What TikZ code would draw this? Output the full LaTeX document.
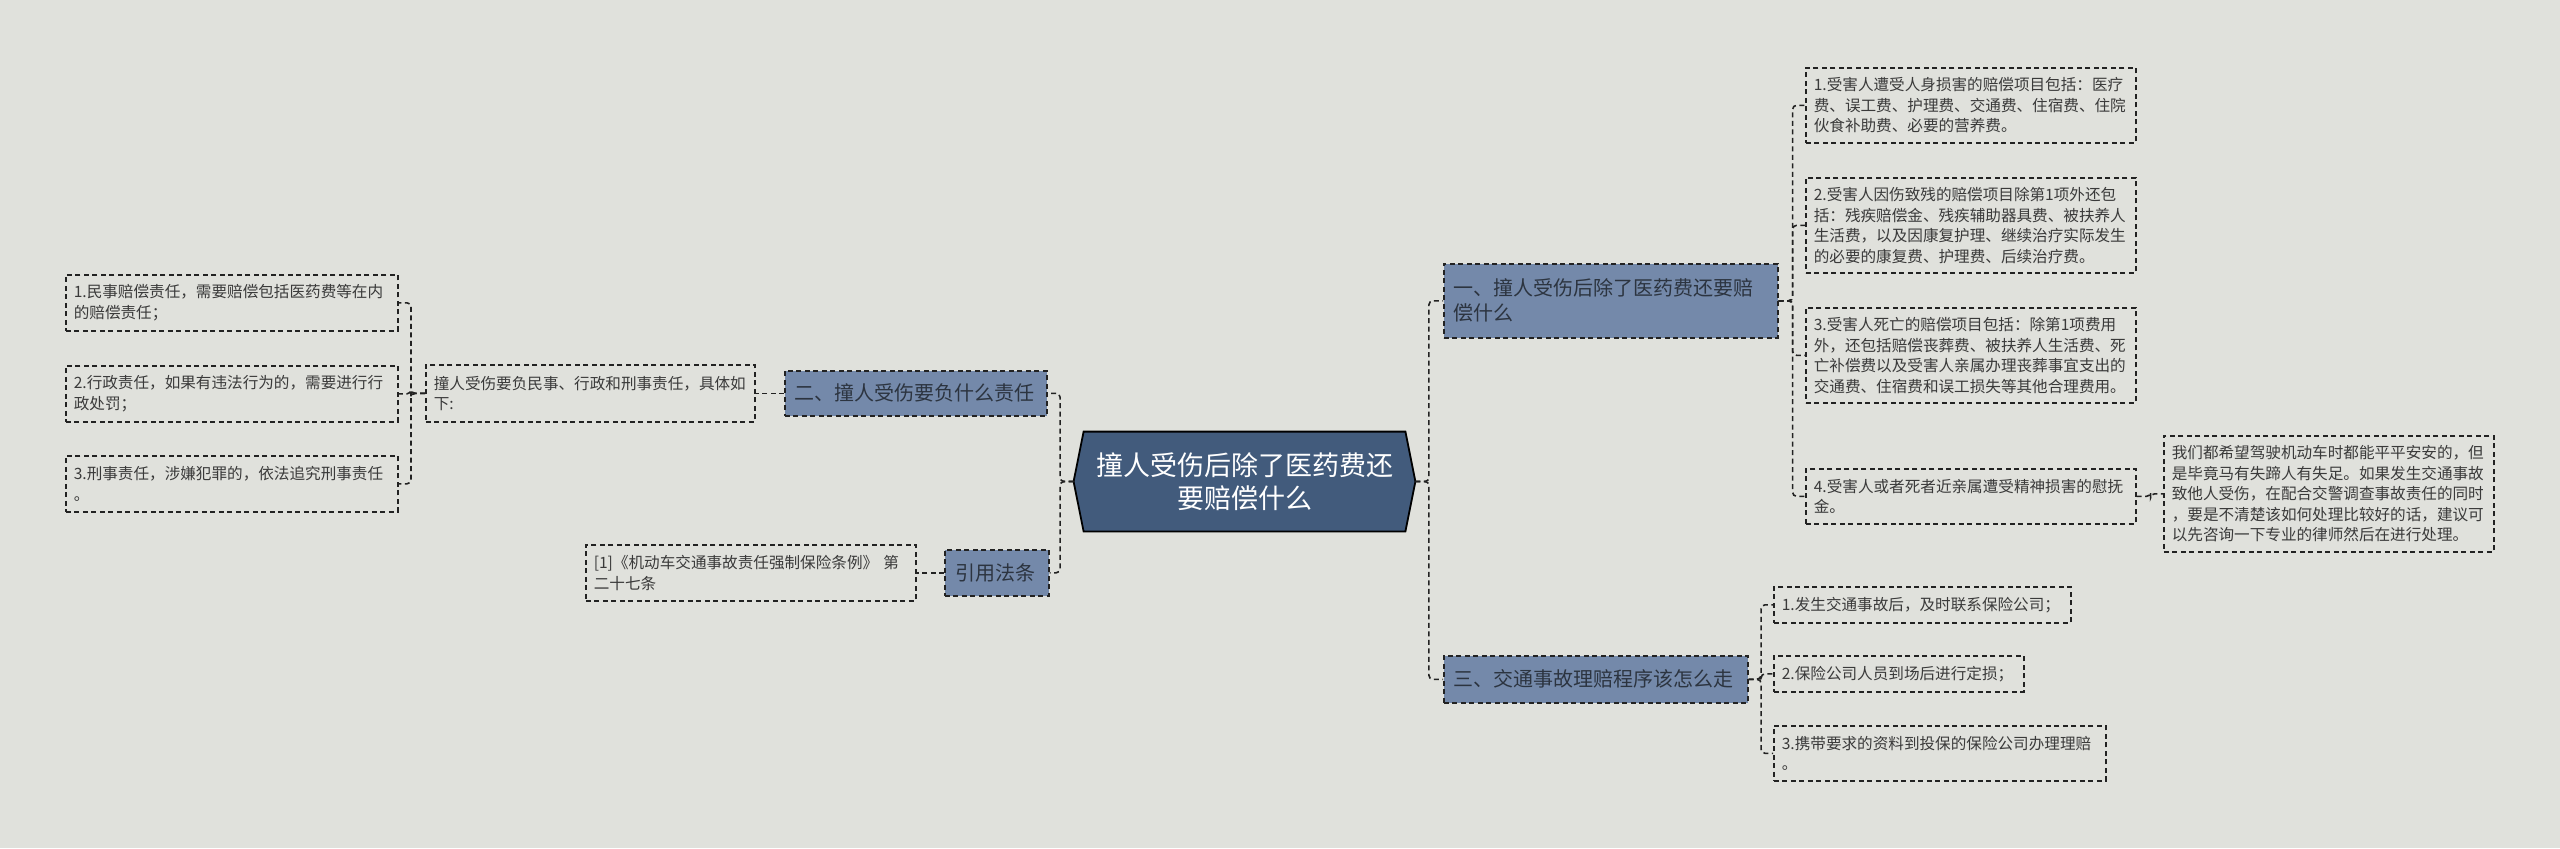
\documentclass[tikz,border=0pt]{standalone}
\usepackage{fontspec}
\newfontfamily\cjk{Noto Sans CJK SC}
\usetikzlibrary{backgrounds}
\definecolor{bgc}{HTML}{E0E1DC}
\definecolor{rootc}{HTML}{425B7C}
\definecolor{brc}{HTML}{7489AA}
\definecolor{linec}{HTML}{222222}
\definecolor{txtc}{HTML}{3A3A3A}
\definecolor{brtxt}{HTML}{2C3440}
\begin{document}
\begin{tikzpicture}[x=0.5pt,y=-0.5pt,
  dsh/.style={dash pattern=on 2.5pt off 1.75pt},
  leaf/.style={draw=linec, dsh, line width=0.8pt, anchor=north west, align=left,
    inner xsep=4pt, inner ysep=0pt, text=txtc, font=\cjk\fontsize{7.8pt}{10.25pt}\selectfont},
  branch/.style={draw=linec, dsh, line width=0.8pt, fill=brc, anchor=north west, align=left,
    inner xsep=5pt, inner ysep=0pt, text=brtxt, font=\cjk\fontsize{10pt}{12.5pt}\selectfont},
  link/.style={draw=linec, dsh, line width=0.8pt, rounded corners=2pt},
  rootbox/.style={font=\cjk\fontsize{13.5pt}{16.5pt}\selectfont, text=white, align=center,
    minimum width=170.5pt, minimum height=49.5pt, inner sep=0pt},
]
\useasboundingbox (0,0) rectangle (2560,848);
\begin{scope}[on background layer]
  \fill[bgc] (0,0) rectangle (2560,848);
\end{scope}

% root
\node[rootbox] (root) at (1244.5,481.5) {撞人受伤后除了医药费还\\要赔偿什么};
\begin{scope}[on background layer]
  \draw[fill=rootc, draw=black, line width=0.9pt] (root.west) -- ([xshift=5pt]root.north west)
    -- ([xshift=-5pt]root.north east) -- (root.east) -- ([xshift=-5pt]root.south east)
    -- ([xshift=5pt]root.south west) -- cycle;
\end{scope}

% branch 1
\node[branch, text width=157pt, minimum height=37pt] (b1) at (1443,263) {一、撞人受伤后除了医药费还要赔\\偿什么};
\node[leaf, text width=157pt, minimum height=37.5pt] (a1) at (1805,67) {1.受害人遭受人身损害的赔偿项目包括：医疗\\费、误工费、护理费、交通费、住宿费、住院\\伙食补助费、必要的营养费。};
\node[leaf, text width=157pt, minimum height=47.5pt] (a2) at (1805,177) {2.受害人因伤致残的赔偿项目除第1项外还包\\括：残疾赔偿金、残疾辅助器具费、被扶养人\\生活费，以及因康复护理、继续治疗实际发生\\的必要的康复费、护理费、后续治疗费。};
\node[leaf, text width=157pt, minimum height=47.5pt] (a3) at (1805,307) {3.受害人死亡的赔偿项目包括：除第1项费用\\外，还包括赔偿丧葬费、被扶养人生活费、死\\亡补偿费以及受害人亲属办理丧葬事宜支出的\\交通费、住宿费和误工损失等其他合理费用。};
\node[leaf, text width=157pt, minimum height=27.5pt] (a4) at (1805,468) {4.受害人或者死者近亲属遭受精神损害的慰抚\\金。};
\node[leaf, text width=157pt, minimum height=58pt] (note) at (2163,435) {我们都希望驾驶机动车时都能平平安安的，但\\是毕竟马有失蹄人有失足。如果发生交通事故\\致他人受伤，在配合交警调查事故责任的同时\\，要是不清楚该如何处理比较好的话，建议可\\以先咨询一下专业的律师然后在进行处理。};

% branch 3 (right bottom)
\node[branch, text width=142pt, minimum height=23.5pt] (b4) at (1443,655) {三、交通事故理赔程序该怎么走};
\node[leaf, text width=140.5pt, minimum height=18pt] (c1) at (1773,586) {1.发生交通事故后，及时联系保险公司；};
\node[leaf, text width=117pt, minimum height=18pt] (c2) at (1773,655) {2.保险公司人员到场后进行定损；};
\node[leaf, text width=158pt, minimum height=27.5pt] (c3) at (1773,725) {3.携带要求的资料到投保的保险公司办理理赔\\。};

% branch 2 (left)
\node[branch, text width=121pt, minimum height=22.5pt] (b2) at (784,370) {二、撞人受伤要负什么责任};
\node[leaf, text width=156.5pt, minimum height=28.5pt] (b2c) at (425,364) {撞人受伤要负民事、行政和刑事责任，具体如\\下:};
\node[leaf, text width=158pt, minimum height=28pt] (l1) at (65,274) {1.民事赔偿责任，需要赔偿包括医药费等在内\\的赔偿责任；};
\node[leaf, text width=158pt, minimum height=28pt] (l2) at (65,365) {2.行政责任，如果有违法行为的，需要进行行\\政处罚；};
\node[leaf, text width=158pt, minimum height=28pt] (l3) at (65,455) {3.刑事责任，涉嫌犯罪的，依法追究刑事责任\\。};

% law
\node[branch, text width=41pt, minimum height=23pt, inner xsep=5.5pt] (b3) at (944,549) {引用法条};
\node[leaf, text width=157pt, minimum height=28pt] (b3c) at (585,544) {[1]《机动车交通事故责任强制保险条例》 第\\二十七条};

% connectors right of root
\draw[link] (root.east) -- ++(13.5,0) |- (b1.west);
\draw[link] (root.east) -- ++(13.5,0) |- (b4.west);
\draw[link] (b1.east) -- ++(14,0) |- (a1.west);
\draw[link] (b1.east) -- ++(14,0) |- (a2.west);
\draw[link] (b1.east) -- ++(14,0) |- (a3.west);
\draw[link] (b1.east) -- ++(14,0) |- (a4.west);
\draw[link] (a4.east) -- ++(14,0) |- (note.west);
\draw[link] (b4.east) -- ++(12.5,0) |- (c1.west);
\draw[link] (b4.east) -- ++(12.5,0) |- (c2.west);
\draw[link] (b4.east) -- ++(12.5,0) |- (c3.west);

% connectors left of root
\draw[link] (root.west) -- ++(-13.5,0) |- (b2.east);
\draw[link] (root.west) -- ++(-13.5,0) |- (b3.east);
\draw[link] (b2.west) -- (b2c.east);
\draw[link] (b3.west) -- (b3c.east);
\draw[link] (b2c.west) -- ++(-14,0) |- (l1.east);
\draw[link] (b2c.west) -- ++(-14,0) |- (l2.east);
\draw[link] (b2c.west) -- ++(-14,0) |- (l3.east);
\end{tikzpicture}
\end{document}
